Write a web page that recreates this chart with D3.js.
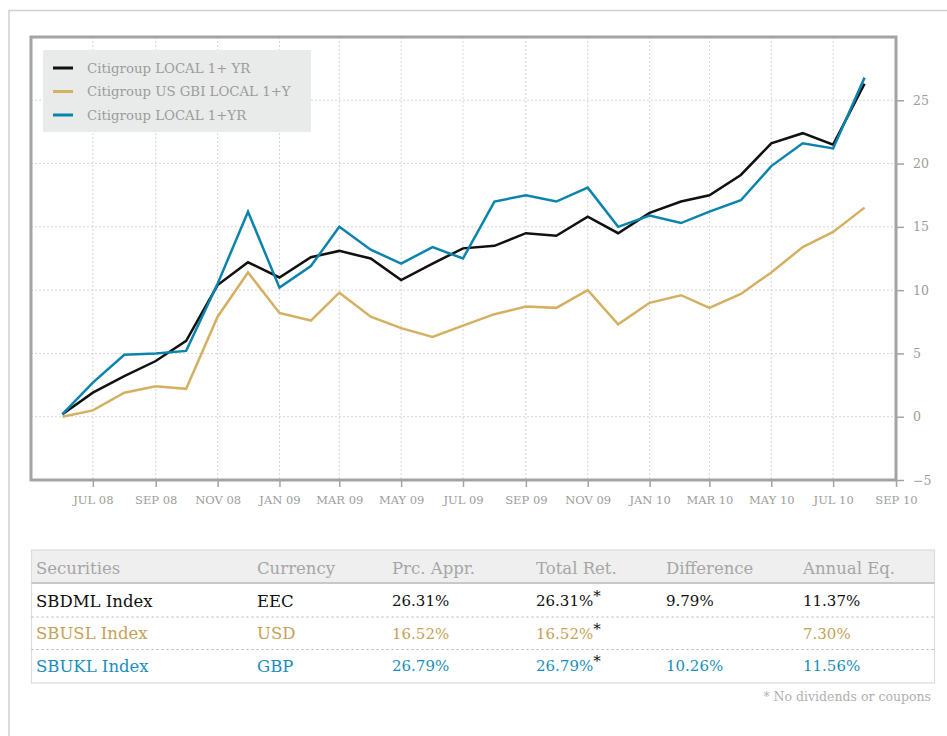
<!DOCTYPE html>
<html>
<head>
<meta charset="utf-8">
<script src="https://cdn.jsdelivr.net/npm/d3@7"></script>
<style>
  html, body { margin: 0; padding: 0; background: #fff; }
  svg { display: block; font-family: "DejaVu Serif", serif; }
</style>
</head>
<body>
<svg id="chart" width="947" height="736"></svg>
<script>
// ---------- DATA ----------
const months = ["2008-06","2008-07","2008-08","2008-09","2008-10","2008-11","2008-12",
  "2009-01","2009-02","2009-03","2009-04","2009-05","2009-06","2009-07","2009-08","2009-09","2009-10","2009-11","2009-12",
  "2010-01","2010-02","2010-03","2010-04","2010-05","2010-06","2010-07","2010-08"];
const seriesNames = ["Citigroup LOCAL 1+ YR", "Citigroup US GBI LOCAL 1+Y", "Citigroup LOCAL 1+YR"];
const blackValues = [0.2, 1.9, 3.2, 4.4, 6.0, 10.4, 12.2,
  11.0, 12.6, 13.1, 12.5, 10.8, 12.1, 13.3, 13.5, 14.5, 14.3, 15.8, 14.5,
  16.1, 17.0, 17.5, 19.1, 21.6, 22.4, 21.5, 26.31];
const goldValues = [0.0, 0.5, 1.9, 2.4, 2.2, 7.9, 11.4,
  8.2, 7.6, 9.8, 7.9, 7.0, 6.3, 7.2, 8.1, 8.7, 8.6, 10.0, 7.3,
  9.0, 9.6, 8.6, 9.7, 11.4, 13.4, 14.6, 16.52];
const blueValues = [0.2, 2.7, 4.9, 5.0, 5.2, 10.5, 16.2,
  10.2, 11.9, 15.0, 13.2, 12.1, 13.4, 12.5, 17.0, 17.5, 17.0, 18.1, 15.0,
  15.9, 15.3, 16.2, 17.1, 19.8, 21.6, 21.2, 26.79];
const xTickMonths = ["2008-07","2008-09","2008-11","2009-01","2009-03","2009-05","2009-07",
  "2009-09","2009-11","2010-01","2010-03","2010-05","2010-07","2010-09"];
const xTickLabels = ["JUL 08","SEP 08","NOV 08","JAN 09","MAR 09","MAY 09","JUL 09",
  "SEP 09","NOV 09","JAN 10","MAR 10","MAY 10","JUL 10","SEP 10"];
const yTicks = [-5, 0, 5, 10, 15, 20, 25];
const tableHeaders = ["Securities","Currency","Prc. Appr.","Total Ret.","Difference","Annual Eq."];
const securities = ["SBDML Index","SBUSL Index","SBUKL Index"];
const currencies = ["EEC","USD","GBP"];
const prcAppr = ["26.31%","16.52%","26.79%"];
const totalRet = ["26.31%","16.52%","26.79%"];
const difference = ["9.79%","","10.26%"];
const annualEq = ["11.37%","7.30%","11.56%"];
const footnote = "* No dividends or coupons";

// ---------- STYLE ----------
const colors = ["#111111", "#d4b062", "#0a84ad"];
const textColors = ["#111111", "#c6a158", "#1a8dbb"];
const frameColor = "#a3a3a3";
const labelColor = "#9c9c9c";

const svg = d3.select("#chart");
const parse = d3.utcParse("%Y-%m");

// outer border
svg.append("path").attr("d", "M9,740 L9,10.5 L960,10.5")
  .attr("fill", "none").attr("stroke", "#cfcfcf").attr("stroke-width", 1.5);

const L = 31, R = 896, T = 37, B = 480;
const x = d3.scaleUtc().domain([parse("2008-05"), parse("2010-09")]).range([L, R]);
const y = d3.scaleLinear().domain([-5, 30]).range([B, T]);

// grid
const grid = svg.append("g");
grid.selectAll(".vg").data(xTickMonths.slice(0, -1)).join("line")
  .attr("x1", d => x(parse(d))).attr("x2", d => x(parse(d)))
  .attr("y1", T).attr("y2", B)
  .attr("stroke", "#d6d6d6").attr("stroke-width", 1).attr("stroke-dasharray", "2,2");
grid.selectAll(".hg").data(yTicks.filter(d => d > -5)).join("line")
  .attr("x1", L).attr("x2", R)
  .attr("y1", d => y(d)).attr("y2", d => y(d))
  .attr("stroke", "#d6d6d6").attr("stroke-width", 1).attr("stroke-dasharray", "2,2");

// x axis
const xAxis = d3.axisBottom(x)
  .tickValues(xTickMonths.map(parse))
  .tickFormat((d, i) => xTickLabels[i])
  .tickSize(7).tickPadding(9);
const gx = svg.append("g").attr("transform", `translate(0,${B})`).call(xAxis);
gx.select(".domain").remove();
gx.selectAll(".tick line").attr("stroke", frameColor).attr("stroke-width", 1.5);
gx.selectAll(".tick text").attr("fill", labelColor)
  .style("font-family", "DejaVu Serif").style("font-size", "11.5px");

// y axis (right)
const yAxis = d3.axisRight(y).tickValues(yTicks).tickFormat(d3.format("d"))
  .tickSize(8).tickPadding(9);
const gy = svg.append("g").attr("transform", `translate(${R},0)`).call(yAxis);
gy.select(".domain").remove();
gy.selectAll(".tick line").attr("stroke", frameColor).attr("stroke-width", 1.5);
gy.selectAll(".tick text").attr("fill", labelColor)
  .style("font-family", "DejaVu Serif").style("font-size", "12.5px");

// frame
svg.append("rect").attr("x", L).attr("y", T).attr("width", R - L).attr("height", B - T)
  .attr("fill", "none").attr("stroke", frameColor).attr("stroke-width", 3);

// lines
const allSeries = [blackValues, goldValues, blueValues];
const line = d3.line().x((d, i) => x(parse(months[i]))).y(d => y(d));
const drawOrder = [1, 0, 2];
drawOrder.forEach(k => {
  svg.append("path").datum(allSeries[k]).attr("d", line)
    .attr("fill", "none").attr("stroke", colors[k]).attr("stroke-width", 2.5)
    .attr("stroke-linejoin", "miter");
});

// legend
const lg = svg.append("g");
lg.append("rect").attr("x", 43).attr("y", 50).attr("width", 268).attr("height", 82)
  .attr("fill", "#e9eaea");
seriesNames.forEach((name, i) => {
  const yy = 68 + i * 23.5;
  lg.append("line").attr("x1", 53).attr("x2", 73).attr("y1", yy).attr("y2", yy)
    .attr("stroke", colors[i]).attr("stroke-width", 3);
  lg.append("text").attr("x", 87).attr("y", yy).attr("dy", "0.35em")
    .attr("fill", labelColor).style("font-size", "13.3px").text(name);
});

// table
const tb = svg.append("g");
const tX = 31.5, tW = 903, tTop = 550, tHeadB = 583, tBot = 683;
tb.append("rect").attr("x", tX).attr("y", tTop).attr("width", tW).attr("height", tHeadB - tTop)
  .attr("fill", "#efefef");
tb.append("rect").attr("x", tX).attr("y", tTop).attr("width", tW).attr("height", tBot - tTop)
  .attr("fill", "none").attr("stroke", "#dcdcdc").attr("stroke-width", 1.2);
tb.append("line").attr("x1", tX).attr("x2", tX + tW).attr("y1", tHeadB).attr("y2", tHeadB)
  .attr("stroke", "#c8c8c8").attr("stroke-width", 2);
[617, 649.5].forEach(yy => tb.append("line").attr("x1", tX).attr("x2", tX + tW)
  .attr("y1", yy).attr("y2", yy).attr("stroke", "#b5b5b5").attr("stroke-width", 1)
  .attr("stroke-dasharray", "2,3"));
const colX = [36, 257, 392, 536, 666, 803];
tableHeaders.forEach((h, j) => tb.append("text").attr("x", colX[j]).attr("y", 568)
  .attr("dy", "0.35em").attr("fill", "#a6a6a6").style("font-size", "16.5px").text(h));
const rowY = [601, 633.5, 666];
const cols = [securities, currencies, prcAppr, totalRet, difference, annualEq];
securities.forEach((s, i) => {
  cols.forEach((col, j) => {
    if (!col[i]) return;
    const t = tb.append("text").attr("x", colX[j]).attr("y", rowY[i]).attr("dy", "0.35em")
      .attr("fill", textColors[i]).style("font-size", j < 2 ? "16.5px" : "15px").text(col[i]);
    if (j === 3) {
      t.append("tspan").attr("fill", "#111").attr("dy", "-0.35em").text("*");
    }
  });
});
svg.append("text").attr("x", 931).attr("y", 697).attr("dy", "0.35em")
  .attr("text-anchor", "end").attr("fill", "#b0b0b0").style("font-size", "12.5px").text(footnote);
</script>
</body>
</html>
